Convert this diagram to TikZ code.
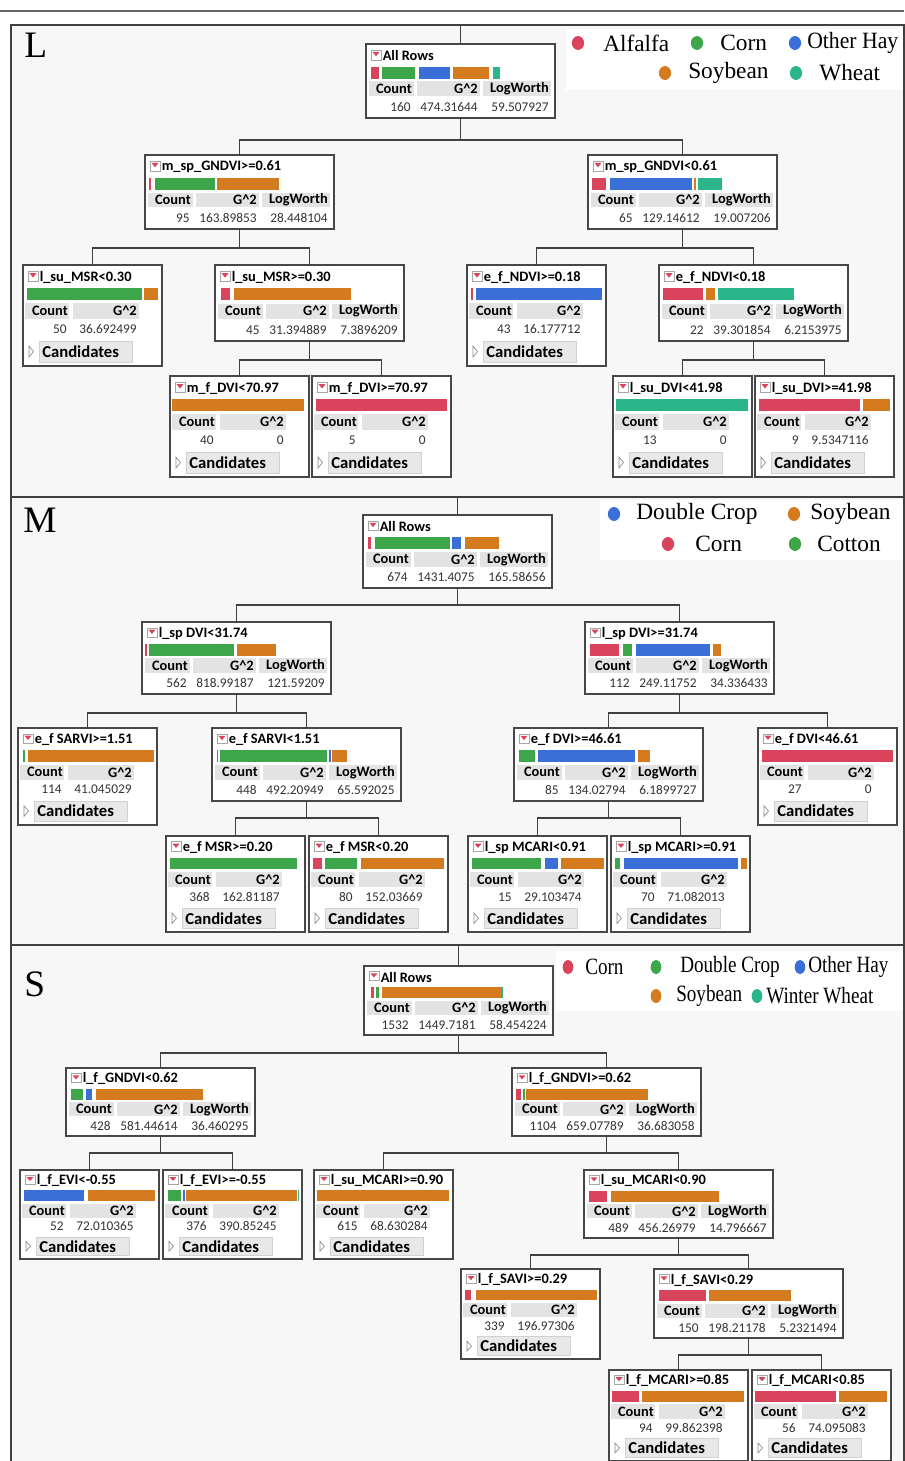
\documentclass[tikz,border=0pt]{standalone}
\usepackage{fontspec}
\usepackage{graphicx}
\setmainfont{Carlito}
\newfontfamily\lgfont{Liberation Serif}
\definecolor{tred}{HTML}{D9435B}
\definecolor{tgreen}{HTML}{3EA64A}
\definecolor{tblue}{HTML}{3B6FD8}
\definecolor{torange}{HTML}{D47A1F}
\definecolor{tteal}{HTML}{2BB58A}
\tikzset{
 nbox/.style={draw=black!72, line width=1.1pt, fill=white, anchor=north west, minimum width=141.75pt, inner sep=0pt, outer sep=0pt},
 lbox/.style={nbox, minimum width=104.25pt},
 conn/.style={draw=black!75, line width=1.1pt},
 ttl/.style={font=\bfseries\fontsize{10.8}{12}\selectfont, anchor=west, inner sep=0pt},
 hd/.style={font=\bfseries\fontsize{10.8}{12}\selectfont, anchor=east, inner sep=0pt},
 val/.style={font=\fontsize{10}{11}\selectfont, anchor=east, inner sep=0pt, text=black!80},
 cand/.style={font=\bfseries\fontsize{12.5}{13}\selectfont, anchor=west, inner sep=0pt},
 hdr/.style={fill=black!11},
 lg/.style={font=\lgfont\fontsize{17.5}{18}\selectfont, anchor=west, inner sep=0pt},
 plet/.style={font=\lgfont\fontsize{28}{30}\selectfont, anchor=west, inner sep=0pt},
}
\newcommand\Gsq{G\textasciicircum 2}
\newcommand\BR[3]{\fill[#3] (#1,23) rectangle (#2,35);}
\newcommand\icn{\filldraw[fill=white, draw=black!35, line width=0.4pt] (5,6) rectangle (15,16);
 \fill[tred] (6.5,8) -- (13.5,8) -- (10,12.5) -- cycle;}
\newcommand\TNode[9]{%
 \node[nbox, minimum height=#4*0.75pt] (#1) at (#2,#3) {};
 \begin{scope}[shift={(#2,#3)}, yscale=#4/75]
  \icn
  \node[ttl] (#1t) at (16.5,12) {#5};
  #6
  \fill[hdr] (3,38) rectangle (48,53);
  \fill[hdr] (51,38) rectangle (114,53);
  \fill[hdr] (117,38) rectangle (185,53);
  \node[hd] (#1h1) at (46,45.5) {Count};
  \node[hd] (#1h2) at (112,45.5) {\Gsq};
  \node[hd] (#1h3) at (183,45.5) {LogWorth};
  \node[val] (#1v1) at (45,64) {#7};
  \node[val] (#1v2) at (112,64) {#8};
  \node[val] (#1v3) at (183,64) {#9};
 \end{scope}}
\newcommand\TLeaf[8]{%
 \node[lbox, minimum height=#4*0.75pt] (#1) at (#2,#3) {};
 \begin{scope}[shift={(#2,#3)}, yscale=#4/101]
  \icn
  \node[ttl] (#1t) at (16.5,12) {#5};
  #6
  \fill[hdr] (2,38) rectangle (46,54);
  \fill[hdr] (50,38) rectangle (116,54);
  \node[hd] (#1h1) at (45,46) {Count};
  \node[hd] (#1h2) at (114,46) {\Gsq};
  \node[val] (#1v1) at (44,64) {#7};
  \node[val] (#1v2) at (114,64) {#8};
  \filldraw[fill=black!9, draw=black!18] (16,76) rectangle (109,97);
  \draw[black!45, line width=0.5pt] (6,81) -- (10.5,86.5) -- (6,92) -- cycle;
  \node[cand] (#1c) at (19,86.5) {Candidates};
 \end{scope}}
\newcommand\LG[6]{% name, dot x, y, colour, text x, text
 \fill[#4] (#2,#3) ellipse [x radius=4.6pt, y radius=5.2pt];
 \node[lg] (#1) at (#5,#3) {#6};}
\newcommand\LGs[6]{%
 \fill[#4] (#2,#3) ellipse [x radius=4pt, y radius=5.2pt];
 \node[lg] (#1) at (#5,#3) {\scalebox{0.82}[1]{#6}};}
\begin{document}
\begin{tikzpicture}[x=0.75pt,y=-0.75pt]
\useasboundingbox (0,0) rectangle (904,1461);
\fill[white] (0,0) rectangle (904,1461);
\draw[black!60, line width=1.5pt] (0,11) -- (904,11);
\filldraw[fill=black!3, draw=black!75, line width=1pt] (11,25) rectangle (904,497);
\filldraw[fill=black!3, draw=black!75, line width=1pt] (11,497) rectangle (904,945);
\filldraw[fill=black!3, draw=black!75, line width=1pt] (11,945) rectangle (904,1463);
% legend backgrounds
\fill[white] (566,29) rectangle (903,90);
\fill[white] (600,500) rectangle (903,560);
\fill[white] (556,951) rectangle (903,1011);
% panel letters
\node[plet] (pL) at (24,45) {L};
\node[plet] (pM) at (23,520) {M};
\node[plet] (pS) at (24,984) {S};
% legends
\LG{lgA}{578}{43}{tred}{603}{Alfalfa}
\LG{lgB}{697}{43}{tgreen}{720}{Corn}
\LG{lgC}{795}{43}{tblue}{807}{\scalebox{0.93}[1]{Other Hay}}
\LG{lgD}{665}{73}{torange}{688}{Soybean}
\LG{lgE}{796}{73}{tteal}{819}{Wheat}
\LG{lgF}{614}{514}{tblue}{636}{Double Crop}
\LG{lgG}{794}{514}{torange}{810}{Soybean}
\LG{lgH}{668}{544}{tred}{695}{Corn}
\LG{lgI}{795}{544}{tgreen}{817}{Cotton}
\LGs{lgJ}{568}{967}{tred}{585}{Corn}
\LGs{lgK}{656}{967}{tgreen}{680}{Double Crop}
\LGs{lgL}{800}{967}{tblue}{808}{Other Hay}
\LGs{lgM}{656}{996}{torange}{676}{Soybean}
\LGs{lgN}{757}{996}{tteal}{766}{Winter Wheat}
% ---------- free ends of the root connectors
\coordinate (Ltop) at (460.5,25);
\coordinate (Mtop) at (457.5,497);
\coordinate (Stop) at (458.5,945);
% ---------- Panel L nodes
\TNode{Lroot}{366}{44}{74}{All Rows}{\BR{5}{13}{tred}\BR{16}{49}{tgreen}\BR{53}{84}{tblue}\BR{87}{123}{torange}\BR{127}{134}{tteal}}{160}{474.31644}{59.507927}
\TNode{La}{145}{155}{74}{m\_sp\_GNDVI>=0.61}{\BR{4}{6}{tred}\BR{10}{70}{tgreen}\BR{72}{134}{torange}}{95}{163.89853}{28.448104}
\TNode{Lb}{588}{155}{74}{m\_sp\_GNDVI<0.61}{\BR{4}{18}{tred}\BR{22}{104}{tblue}\BR{106}{108}{torange}\BR{110}{134}{tteal}}{65}{129.14612}{19.007206}
\TLeaf{Laa}{23}{265}{101}{l\_su\_MSR<0.30}{\BR{4}{119}{tgreen}\BR{121}{135}{torange}}{50}{36.692499}
\TNode{Lab}{215}{265}{76}{l\_su\_MSR>=0.30}{\BR{6}{15}{tred}\BR{19}{136}{torange}}{45}{31.394889}{7.3896209}
\TLeaf{Laba}{170}{376}{101}{m\_f\_DVI<70.97}{\BR{2}{134}{torange}}{40}{0}
\TLeaf{Labb}{312}{376}{101}{m\_f\_DVI>=70.97}{\BR{4}{135}{tred}}{5}{0}
\TLeaf{Lba}{467}{265}{101}{e\_f\_NDVI>=0.18}{\BR{4}{6}{tred}\BR{9}{135}{tblue}}{43}{16.177712}
\TNode{Lbb}{659}{265}{76}{e\_f\_NDVI<0.18}{\BR{4}{44}{tred}\BR{47}{56}{torange}\BR{59}{135}{tteal}}{22}{39.301854}{6.2153975}
\TLeaf{Lbba}{613}{376}{101}{l\_su\_DVI<41.98}{\BR{3}{135}{tteal}}{13}{0}
\TLeaf{Lbbb}{755}{376}{101}{l\_su\_DVI>=41.98}{\BR{4}{105}{tred}\BR{108}{135}{torange}}{9}{9.5347116}
\draw[conn] (Ltop) -- (Lroot.north);
\draw[conn] (Lroot.south) -- ++(0,22) -| (La.north);
\draw[conn] (Lroot.south) -- ++(0,22) -| (Lb.north);
\draw[conn] (La.south) -- ++(0,19) -| (Laa.north);
\draw[conn] (La.south) -- ++(0,19) -| (Lab.north);
\draw[conn] (Lab.south) -- ++(0,19) -| (Laba.north);
\draw[conn] (Lab.south) -- ++(0,19) -| (Labb.north);
\draw[conn] (Lb.south) -- ++(0,19) -| (Lba.north);
\draw[conn] (Lb.south) -- ++(0,19) -| (Lbb.north);
\draw[conn] (Lbb.south) -- ++(0,19) -| (Lbba.north);
\draw[conn] (Lbb.south) -- ++(0,19) -| (Lbbb.north);
% ---------- Panel M nodes
\TNode{Mroot}{363}{515}{73}{All Rows}{\BR{5}{8}{tred}\BR{12}{87}{tgreen}\BR{89}{98}{tblue}\BR{102}{136}{torange}}{674}{1431.4075}{165.58656}
\TNode{Ma}{142}{622}{72}{l\_sp DVI<31.74}{\BR{3}{5}{tred}\BR{7}{92}{tgreen}\BR{95}{134}{torange}}{562}{818.99187}{121.59209}
\TNode{Mb}{585}{622}{72}{l\_sp DVI>=31.74}{\BR{5}{34}{tred}\BR{38}{47}{tgreen}\BR{51}{125}{tblue}\BR{128}{136}{torange}}{112}{249.11752}{34.336433}
\TLeaf{Maa}{18}{728}{97}{e\_f SARVI>=1.51}{\BR{5}{7}{tgreen}\BR{10}{136}{torange}}{114}{41.045029}
\TNode{Mab}{212}{728}{73}{e\_f SARVI<1.51}{\BR{5}{6}{tred}\BR{8}{115}{tgreen}\BR{117}{119}{tblue}\BR{120}{135}{torange}}{448}{492.20949}{65.592025}
\TLeaf{Maba}{166}{836}{96}{e\_f MSR>=0.20}{\BR{4}{131}{tgreen}}{368}{162.81187}
\TLeaf{Mabb}{309}{836}{96}{e\_f MSR<0.20}{\BR{4}{13}{tred}\BR{16}{48}{tgreen}\BR{52}{135}{torange}}{80}{152.03669}
\TNode{Mba}{514}{728}{73}{e\_f DVI>=46.61}{\BR{5}{21}{tgreen}\BR{24}{121}{tblue}\BR{124}{136}{torange}}{85}{134.02794}{6.1899727}
\TLeaf{Mbb}{758}{728}{97}{e\_f DVI<46.61}{\BR{4}{135}{tred}}{27}{0}
\TLeaf{Mbaa}{468}{836}{96}{l\_sp MCARI<0.91}{\BR{4}{73}{tgreen}\BR{77}{90}{tblue}\BR{93}{136}{torange}}{15}{29.103474}
\TLeaf{Mbab}{611}{836}{96}{l\_sp MCARI>=0.91}{\BR{4}{9}{tgreen}\BR{13}{127}{tblue}\BR{130}{136}{torange}}{70}{71.082013}
\draw[conn] (Mtop) -- (Mroot.north);
\draw[conn] (Mroot.south) -- ++(0,17) -| (Ma.north);
\draw[conn] (Mroot.south) -- ++(0,17) -| (Mb.north);
\draw[conn] (Ma.south) -- ++(0,19) -| (Maa.north);
\draw[conn] (Ma.south) -- ++(0,19) -| (Mab.north);
\draw[conn] (Mab.south) -- ++(0,17) -| (Maba.north);
\draw[conn] (Mab.south) -- ++(0,17) -| (Mabb.north);
\draw[conn] (Mb.south) -- ++(0,19) -| (Mba.north);
\draw[conn] (Mb.south) -- ++(0,19) -| (Mbb.north);
\draw[conn] (Mba.south) -- ++(0,17) -| (Mbaa.north);
\draw[conn] (Mba.south) -- ++(0,17) -| (Mbab.north);
% ---------- Panel S nodes
\TNode{Sroot}{364}{966}{69}{All Rows}{\BR{7}{10}{tred}\BR{12}{15}{tgreen}\BR{18}{137}{torange}\BR{137}{139}{tteal}}{1532}{1449.7181}{58.454224}
\TNode{Sa}{66}{1068}{68}{l\_f\_GNDVI<0.62}{\BR{5}{17}{tgreen}\BR{20}{26}{tblue}\BR{30}{137}{torange}}{428}{581.44614}{36.460295}
\TNode{Sb}{512}{1068}{68}{l\_f\_GNDVI>=0.62}{\BR{4}{9}{tred}\BR{11}{13}{tgreen}\BR{14}{136}{torange}}{1104}{659.07789}{36.683058}
\TLeaf{Saa}{20}{1170}{89}{l\_f\_EVI<-0.55}{\BR{4}{64}{tblue}\BR{68}{135}{torange}}{52}{72.010365}
\TLeaf{Sab}{163}{1170}{89}{l\_f\_EVI>=-0.55}{\BR{5}{18}{tgreen}\BR{20}{22}{tblue}\BR{23}{134}{torange}\BR{135}{136}{tteal}}{376}{390.85245}
\TLeaf{Sba}{314}{1170}{89}{l\_su\_MCARI>=0.90}{\BR{3}{135}{torange}}{615}{68.630284}
\TNode{Sbb}{584}{1170}{68}{l\_su\_MCARI<0.90}{\BR{5}{23}{tred}\BR{27}{135}{torange}}{489}{456.26979}{14.796667}
\TLeaf{Sbba}{461}{1269}{90}{l\_f\_SAVI>=0.29}{\BR{4}{10}{tred}\BR{15}{136}{torange}}{339}{196.97306}
\TNode{Sbbb}{654}{1269}{69}{l\_f\_SAVI<0.29}{\BR{5}{52}{tred}\BR{55}{137}{torange}}{150}{198.21178}{5.2321494}
\TLeaf{Sbbba}{609}{1370}{91}{l\_f\_MCARI>=0.85}{\BR{3}{30}{tred}\BR{33}{135}{torange}}{94}{99.862398}
\TLeaf{Sbbbb}{752}{1370}{91}{l\_f\_MCARI<0.85}{\BR{3}{84}{tred}\BR{87}{135}{torange}}{56}{74.095083}
\draw[conn] (Stop) -- (Sroot.north);
\draw[conn] (Sroot.south) -- ++(0,18) -| (Sa.north);
\draw[conn] (Sroot.south) -- ++(0,18) -| (Sb.north);
\draw[conn] (Sa.south) -- ++(0,17) -| (Saa.north);
\draw[conn] (Sa.south) -- ++(0,17) -| (Sab.north);
\draw[conn] (Sb.south) -- ++(0,17) -| (Sba.north);
\draw[conn] (Sb.south) -- ++(0,17) -| (Sbb.north);
\draw[conn] (Sbb.south) -- ++(0,17) -| (Sbba.north);
\draw[conn] (Sbb.south) -- ++(0,17) -| (Sbbb.north);
\draw[conn] (Sbbb.south) -- ++(0,17) -| (Sbbba.north);
\draw[conn] (Sbbb.south) -- ++(0,17) -| (Sbbbb.north);
\end{tikzpicture}
\end{document}
